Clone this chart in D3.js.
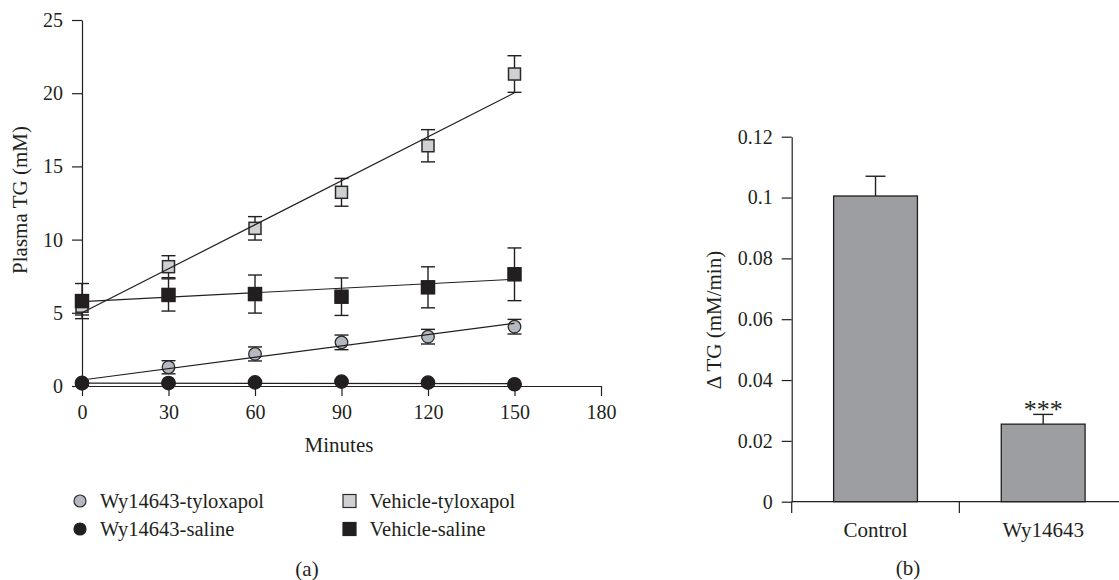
<!DOCTYPE html>
<html>
<head>
<meta charset="utf-8">
<script src="https://cdn.jsdelivr.net/npm/d3@7"></script>
<style>
    body { margin: 0; background: #fff; }
    text { font-family: "Liberation Serif", "Times New Roman", serif; fill: #231f20; }
    .axis path, .axis line { stroke: #231f20; stroke-width: 1.2; }
    .axis text { font-size: 20px; font-family: "Liberation Serif", "Times New Roman", serif; }
</style>
</head>
<body>
<div id="chart"></div>
<script>
// ---- data (a): plasma TG over time ----
const minutes = [0, 30, 60, 90, 120, 150];
const seriesNames = ["Wy14643-tyloxapol", "Wy14643-saline", "Vehicle-tyloxapol", "Vehicle-saline"];
const wyTylox = [0.25, 1.28, 2.19, 2.98, 3.37, 4.05];
const wyTyloxErr = [0.1, 0.45, 0.48, 0.5, 0.5, 0.5];
const wySaline = [0.18, 0.2, 0.25, 0.3, 0.23, 0.12];
const wySalineErr = [0.08, 0.08, 0.08, 0.08, 0.08, 0.08];
const vehTylox = [5.45, 8.15, 10.77, 13.23, 16.41, 21.31];
const vehTyloxErr = [0.6, 0.75, 0.8, 0.95, 1.1, 1.25];
const vehSaline = [5.8, 6.22, 6.28, 6.1, 6.74, 7.63];
const vehSalineErr = [1.2, 1.1, 1.3, 1.28, 1.4, 1.8];
// fitted regression lines (intercept, slope per minute)
const fitIntercept = [0.41, 0.2, 5.0, 5.76];
const fitSlope = [0.0258, -0.0003, 0.1002, 0.0102];
const xTicks = [0, 30, 60, 90, 120, 150, 180];
const yTicks = [0, 5, 10, 15, 20, 25];

// ---- data (b): TG secretion rate ----
const groups = ["Control", "Wy14643"];
const rates = [0.1005, 0.0255];
const rateErr = [0.0065, 0.0032];
const rateTicks = [0, 0.02, 0.04, 0.06, 0.08, 0.1, 0.12];

const svg = d3.select("#chart").append("svg")
    .attr("width", 1119)
    .attr("height", 580);

// ================= panel (a) =================
const x = d3.scaleLinear().domain([0, 180]).range([82, 601]);
const y = d3.scaleLinear().domain([0, 25]).range([386, 20]);

svg.append("g")
    .attr("class", "axis")
    .attr("transform", "translate(0,386)")
    .call(d3.axisBottom(x).tickValues(xTicks).tickSize(10).tickSizeOuter(0).tickPadding(9));

svg.append("g")
    .attr("class", "axis")
    .attr("transform", "translate(82,0)")
    .call(d3.axisLeft(y).tickValues(yTicks).tickSize(10).tickSizeOuter(0).tickPadding(9));

svg.append("text")
    .attr("x", 339).attr("y", 452)
    .attr("text-anchor", "middle")
    .style("font-size", "21px")
    .text("Minutes");

svg.append("text")
    .attr("transform", "translate(27,200) rotate(-90)")
    .attr("text-anchor", "middle")
    .style("font-size", "21px")
    .text("Plasma TG (mM)");

const series = [
    {name: seriesNames[0], values: wyTylox, err: wyTyloxErr, shape: "circle", fill: "#b4b9c0", stroke: "#2a2a2a", size: 6.3},
    {name: seriesNames[1], values: wySaline, err: wySalineErr, shape: "circle", fill: "#231f20", stroke: "#231f20", size: 6.7},
    {name: seriesNames[2], values: vehTylox, err: vehTyloxErr, shape: "square", fill: "#cfd0d3", stroke: "#2a2a2a", size: 12},
    {name: seriesNames[3], values: vehSaline, err: vehSalineErr, shape: "square", fill: "#231f20", stroke: "#231f20", size: 13}
];

// error bars
series.forEach(s => {
    const g = svg.append("g").attr("stroke", "#231f20").attr("stroke-width", 1.4);
    s.values.forEach((v, i) => {
        const cx = x(minutes[i]);
        const top = y(v + s.err[i]);
        const bot = y(v - s.err[i]);
        g.append("line").attr("x1", cx).attr("x2", cx).attr("y1", top).attr("y2", bot);
        g.append("line").attr("x1", cx - 7).attr("x2", cx + 7).attr("y1", top).attr("y2", top);
        g.append("line").attr("x1", cx - 7).attr("x2", cx + 7).attr("y1", bot).attr("y2", bot);
    });
});

// markers
series.forEach(s => {
    const g = svg.append("g");
    s.values.forEach((v, i) => {
        const cx = x(minutes[i]);
        const cy = y(v);
        if (s.shape === "circle") {
            g.append("circle").attr("cx", cx).attr("cy", cy).attr("r", s.size)
                .attr("fill", s.fill).attr("stroke", s.stroke).attr("stroke-width", 1.3);
        } else {
            g.append("rect").attr("x", cx - s.size / 2).attr("y", cy - s.size / 2)
                .attr("width", s.size).attr("height", s.size)
                .attr("fill", s.fill).attr("stroke", s.stroke).attr("stroke-width", 1.5);
        }
    });
});

// regression lines
const line = d3.line().x(d => x(d[0])).y(d => y(d[1]));
seriesNames.forEach((n, k) => {
    const ends = [0, 150].map(t => [t, fitIntercept[k] + fitSlope[k] * t]);
    svg.append("path")
        .attr("d", line(ends))
        .attr("fill", "none")
        .attr("stroke", "#231f20")
        .attr("stroke-width", 1.2);
});

// legend
const legendPos = [[80, 501], [80, 529], [349.5, 501], [349.5, 529]];
series.forEach((s, k) => {
    const [lx, ly] = legendPos[k];
    if (s.shape === "circle") {
        svg.append("circle").attr("cx", lx).attr("cy", ly).attr("r", 6)
            .attr("fill", s.fill).attr("stroke", s.stroke).attr("stroke-width", 1.2);
    } else {
        svg.append("rect").attr("x", lx - 6.5).attr("y", ly - 6.5)
            .attr("width", 13).attr("height", 13)
            .attr("fill", s.fill).attr("stroke", s.stroke).attr("stroke-width", 1.2);
    }
    svg.append("text")
        .attr("x", lx + 20).attr("y", ly + 7)
        .style("font-size", "20.5px")
        .text(s.name);
});

svg.append("text")
    .attr("x", 307).attr("y", 576)
    .attr("text-anchor", "middle")
    .style("font-size", "21px")
    .text("(a)");

// ================= panel (b) =================
const xb = d3.scaleBand().domain(groups).range([791.7, 1127]).padding(0);
const yb = d3.scaleLinear().domain([0, 0.12]).range([501.7, 136.7]);

svg.append("g")
    .attr("class", "axis")
    .attr("transform", "translate(791.7,0)")
    .call(d3.axisLeft(yb).tickValues(rateTicks).tickSize(10).tickSizeOuter(0).tickPadding(9)
        .tickFormat(d => d === 0 ? "0" : d3.format("")(+d.toFixed(2))));

// x axis with boundary ticks
const xbAxis = svg.append("g").attr("class", "axis");
xbAxis.append("line")
    .attr("x1", xb.range()[0]).attr("x2", xb.range()[1])
    .attr("y1", 501.7).attr("y2", 501.7);
groups.forEach((gname, i) => {
    xbAxis.append("line")
        .attr("x1", xb(gname)).attr("x2", xb(gname))
        .attr("y1", 501.7).attr("y2", 513);
    xbAxis.append("text")
        .attr("x", xb(gname) + xb.bandwidth() / 2).attr("y", 537)
        .attr("text-anchor", "middle")
        .style("font-size", "21px")
        .text(gname);
});

const barW = xb.bandwidth() * 0.5;
groups.forEach((gname, i) => {
    const cx = xb(gname) + xb.bandwidth() / 2;
    const top = yb(rates[i] + rateErr[i]);
    svg.append("line")
        .attr("x1", cx).attr("x2", cx)
        .attr("y1", yb(rates[i])).attr("y2", top)
        .attr("stroke", "#231f20").attr("stroke-width", 1.4);
    svg.append("line")
        .attr("x1", cx - 10).attr("x2", cx + 10)
        .attr("y1", top).attr("y2", top)
        .attr("stroke", "#231f20").attr("stroke-width", 1.4);
    svg.append("rect")
        .attr("x", cx - barW / 2).attr("y", yb(rates[i]))
        .attr("width", barW).attr("height", yb(0) - yb(rates[i]))
        .attr("fill", "#9d9ea2").attr("stroke", "#231f20").attr("stroke-width", 1.3);
});

svg.append("text")
    .attr("x", xb("Wy14643") + xb.bandwidth() / 2).attr("y", 418)
    .attr("text-anchor", "middle")
    .style("font-size", "26px")
    .text("***");

svg.append("text")
    .attr("transform", "translate(721,320) rotate(-90)")
    .attr("text-anchor", "middle")
    .style("font-size", "21px")
    .text("Δ TG (mM/min)");

svg.append("text")
    .attr("x", 908).attr("y", 575)
    .attr("text-anchor", "middle")
    .style("font-size", "21px")
    .text("(b)");
</script>
</body>
</html>
